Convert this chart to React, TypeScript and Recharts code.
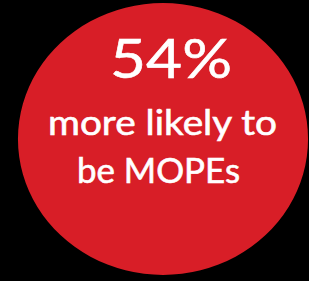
import { PieChart, Pie, Cell } from "recharts";

const categories = ["MOPEs"];
const values = [54];
const headline = "54%";
const captionLines = ["more likely to", "be MOPEs"];

const data = categories.map((name, i) => ({ name, value: values[i] }));

const font = "Lato, sans-serif";

// caption layout: center x, baseline y, stretched width
const captionLayout = [
  { x: 162.5, y: 135, w: 229 },
  { x: 158.5, y: 183, w: 163 },
];

export default function App() {
  return (
    <div
      style={{
        position: "fixed",
        left: 0,
        top: 0,
        width: 309,
        height: 281,
        background: "#000",
      }}
    >
      <PieChart width={309} height={281} margin={{ top: 0, right: 0, bottom: 0, left: 0 }}>
        <Pie
          data={data}
          dataKey="value"
          nameKey="name"
          cx={163}
          cy={139}
          innerRadius={0}
          outerRadius={140}
          startAngle={90}
          endAngle={-270}
          stroke="none"
          isAnimationActive={false}
        >
          {data.map((d) => (
            <Cell
              key={d.name}
              fill="#d81e27"
              transform="translate(163 139) scale(1.036 0.971) translate(-163 -139)"
            />
          ))}
        </Pie>
      </PieChart>
      {/* text overlay on top of the pie */}
      <svg
        width={309}
        height={281}
        style={{ position: "absolute", left: 0, top: 0, pointerEvents: "none" }}
      >
        <text
          x={171}
          y={78}
          textAnchor="middle"
          fill="#fff"
          stroke="#fff"
          strokeWidth={0.6}
          textLength={122}
          lengthAdjust="spacingAndGlyphs"
          style={{ fontFamily: font, fontSize: 55 }}
        >
          {headline}
        </text>
        {captionLines.map((line, i) => (
          <text
            key={line}
            x={captionLayout[i].x}
            y={captionLayout[i].y}
            textAnchor="middle"
            fill="#fff"
            stroke="#fff"
            strokeWidth={0.6}
            textLength={captionLayout[i].w}
            lengthAdjust="spacingAndGlyphs"
            style={{ fontFamily: font, fontSize: 34 }}
          >
            {line}
          </text>
        ))}
      </svg>
    </div>
  );
}
